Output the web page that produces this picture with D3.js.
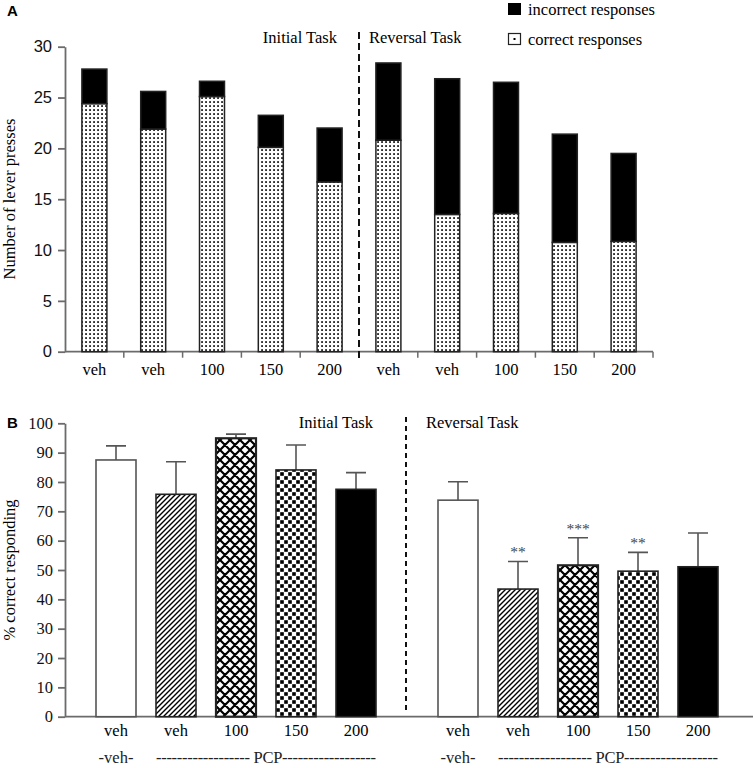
<!DOCTYPE html>
<html>
<head>
<meta charset="utf-8">
<script src="https://cdn.jsdelivr.net/npm/d3@7"></script>
<style>
  body { margin: 0; background: #fff; }
  svg text { font-family: "Liberation Serif", "Times New Roman", serif; }
</style>
</head>
<body>
<svg id="chart" width="753" height="768"></svg>
<script>
// Panel A: lever presses (stacked), initial + reversal task
const leverLabels = ["veh", "veh", "100", "150", "200", "veh", "veh", "100", "150", "200"];
const leverCorrect = [24.4, 21.9, 25.1, 20.1, 16.7, 20.8, 13.5, 13.6, 10.75, 10.85];
const leverIncorrect = [3.4, 3.7, 1.5, 3.15, 5.3, 7.6, 13.35, 12.9, 10.65, 8.65];
const leverTicks = [0, 5, 10, 15, 20, 25, 30];

// Panel B: % correct responding (mean + SEM)
const doseLabels = ["veh", "veh", "100", "150", "200"];
const initialMean = [87.5, 75.8, 94.9, 84.1, 77.5];
const initialSem = [4.8, 11.1, 1.4, 8.5, 5.7];
const reversalMean = [73.8, 43.5, 51.6, 49.6, 51.1];
const reversalSem = [6.3, 9.4, 9.4, 6.4, 11.5];
const reversalStars = ["", "**", "***", "**", ""];
const pctTicks = [0, 10, 20, 30, 40, 50, 60, 70, 80, 90, 100];
const barFills = ["white", "url(#hatch)", "url(#cross)", "url(#checker)", "black"];

let svg = d3.select("#chart");
let axisColor = "#6b6b6b";

// patterns
let defs = svg.append("defs");

let dots = defs.append("pattern").attr("id", "dots")
    .attr("patternUnits", "userSpaceOnUse").attr("width", 4).attr("height", 4);
dots.append("rect").attr("width", 4).attr("height", 4).attr("fill", "white");
dots.append("rect").attr("x", 1.2).attr("y", 1.2).attr("width", 1.7).attr("height", 1.7).attr("fill", "black");

let hatch = defs.append("pattern").attr("id", "hatch")
    .attr("patternUnits", "userSpaceOnUse").attr("width", 5).attr("height", 5);
hatch.append("rect").attr("width", 5).attr("height", 5).attr("fill", "white");
hatch.append("path").attr("d", "M0,5L5,0M-1,1L1,-1M4,6L6,4")
    .attr("stroke", "black").attr("stroke-width", 1.4);

let cross = defs.append("pattern").attr("id", "cross")
    .attr("patternUnits", "userSpaceOnUse").attr("width", 10).attr("height", 10);
cross.append("rect").attr("width", 10).attr("height", 10).attr("fill", "white");
cross.append("path").attr("d", "M0,10L10,0M-1,1L1,-1M9,11L11,9M0,0L10,10M-1,9L1,11M9,-1L11,1")
    .attr("stroke", "black").attr("stroke-width", 2.2);

let checker = defs.append("pattern").attr("id", "checker")
    .attr("patternUnits", "userSpaceOnUse").attr("width", 8).attr("height", 8);
checker.append("rect").attr("width", 8).attr("height", 8).attr("fill", "white");
checker.append("rect").attr("x", 0.2).attr("y", 0.2).attr("width", 3.6).attr("height", 3.6).attr("fill", "black");
checker.append("rect").attr("x", 4.2).attr("y", 4.2).attr("width", 3.6).attr("height", 3.6).attr("fill", "black");

// ---------------- Panel A ----------------
let yA = d3.scaleLinear().domain([0, 30]).range([351.7, 46.7]);
let xA = d3.scaleBand().domain(d3.range(leverLabels.length))
    .range([65, 653]).paddingInner(0.575).paddingOuter(0.2875);

let gA = svg.append("g");

gA.append("text").attr("x", 7).attr("y", 16)
    .style("font-family", "Liberation Sans, Arial, sans-serif")
    .style("font-weight", "bold").style("font-size", "15px").text("A");

let axA = gA.append("g").attr("transform", "translate(65,0)")
    .call(d3.axisLeft(yA).tickValues(leverTicks).tickSize(7).tickPadding(6).tickSizeOuter(0));
axA.selectAll("path, line").attr("stroke", axisColor).attr("stroke-width", 1.8);
axA.selectAll("text").style("font-family", "Liberation Sans, Arial, sans-serif")
    .style("font-size", "16.5px").attr("fill", "#111");

// x axis line with ticks on the band boundaries
gA.append("line").attr("x1", 65).attr("x2", 653).attr("y1", yA(0)).attr("y2", yA(0))
    .attr("stroke", axisColor).attr("stroke-width", 1.8);
gA.selectAll(".xtick").data(d3.range(1, leverLabels.length + 1)).enter().append("line")
    .attr("x1", k => xA.range()[0] + k * xA.step())
    .attr("x2", k => xA.range()[0] + k * xA.step())
    .attr("y1", yA(0)).attr("y2", yA(0) + 6)
    .attr("stroke", axisColor).attr("stroke-width", 1.5);

gA.selectAll(".xlab").data(leverLabels).enter().append("text")
    .attr("x", (d, i) => xA(i) + xA.bandwidth() / 2)
    .attr("y", 375).attr("text-anchor", "middle")
    .style("font-size", "16.5px").text(d => d);

gA.append("text").attr("transform", "translate(15,199) rotate(-90)")
    .attr("text-anchor", "middle").style("font-size", "16.5px").text("Number of lever presses");

let stackData = leverLabels.map((d, i) => ({ i: i, correct: leverCorrect[i], incorrect: leverIncorrect[i] }));
let series = d3.stack().keys(["correct", "incorrect"])(stackData);
let stackFill = { correct: "url(#dots)", incorrect: "black" };

gA.selectAll(".series").data(series).enter().append("g")
    .attr("fill", s => stackFill[s.key])
    .selectAll("rect").data(s => s).enter().append("rect")
    .attr("x", d => xA(d.data.i))
    .attr("width", xA.bandwidth())
    .attr("y", d => yA(d[1]))
    .attr("height", d => yA(d[0]) - yA(d[1]))
    .attr("stroke", "#222").attr("stroke-width", 1.5);

// dashed divider A
let divA = xA.range()[0] + 5 * xA.step();
gA.append("line").attr("x1", divA).attr("x2", divA).attr("y1", 32).attr("y2", 361)
    .attr("stroke", "#111").attr("stroke-width", 2).attr("stroke-dasharray", "7,4");

gA.append("text").attr("x", 337).attr("y", 43).attr("text-anchor", "end")
    .style("font-size", "16.5px").text("Initial Task");
gA.append("text").attr("x", 369).attr("y", 43)
    .style("font-size", "16.5px").text("Reversal Task");

// legend
gA.append("rect").attr("x", 508).attr("y", 3).attr("width", 13).attr("height", 12).attr("fill", "black");
gA.append("rect").attr("x", 508.5).attr("y", 33.5).attr("width", 12).attr("height", 11)
    .attr("fill", "white").attr("stroke", "#222").attr("stroke-width", 1.2);
gA.append("rect").attr("x", 513.5).attr("y", 38).attr("width", 2).attr("height", 2).attr("fill", "black");
gA.append("text").attr("x", 528).attr("y", 15).style("font-size", "16.5px").text("incorrect responses");
gA.append("text").attr("x", 528).attr("y", 45).style("font-size", "16.5px").text("correct responses");

// ---------------- Panel B ----------------
let yB = d3.scaleLinear().domain([0, 100]).range([716.7, 423.3]);
let xInit = d3.scaleBand().domain(d3.range(5)).range([86, 386]).paddingInner(1 / 3).paddingOuter(1 / 6);
let xRev = d3.scaleBand().domain(d3.range(5)).range([428, 728]).paddingInner(1 / 3).paddingOuter(1 / 6);

let gB = svg.append("g");

gB.append("text").attr("x", 7).attr("y", 428)
    .style("font-family", "Liberation Sans, Arial, sans-serif")
    .style("font-weight", "bold").style("font-size", "15px").text("B");

let axB = gB.append("g").attr("transform", "translate(65,0)")
    .call(d3.axisLeft(yB).tickValues(pctTicks).tickSize(7).tickPadding(5).tickSizeOuter(0));
axB.selectAll("path, line").attr("stroke", axisColor).attr("stroke-width", 1.8);
axB.selectAll("text").style("font-size", "16.5px").attr("fill", "#111");

gB.append("line").attr("x1", 65).attr("x2", 753).attr("y1", yB(0)).attr("y2", yB(0))
    .attr("stroke", axisColor).attr("stroke-width", 1.8);

gB.append("text").attr("transform", "translate(15,570) rotate(-90)")
    .attr("text-anchor", "middle").style("font-size", "16.5px").text("% correct responding");

function drawGroup(x, means, sems, stars) {
    let g = gB.append("g");
    let cx = i => x(i) + x.bandwidth() / 2;
    // error bars
    g.selectAll(".err").data(means).enter().append("path")
        .attr("d", (d, i) => {
            let top = yB(d + sems[i]);
            return "M" + cx(i) + "," + yB(d) + "V" + top + "M" + (cx(i) - 10) + "," + top + "H" + (cx(i) + 10);
        })
        .attr("fill", "none").attr("stroke", "#555").attr("stroke-width", 1.6);
    g.selectAll(".bar").data(means).enter().append("rect")
        .attr("x", (d, i) => x(i)).attr("width", x.bandwidth())
        .attr("y", d => yB(d)).attr("height", d => yB(0) - yB(d))
        .attr("fill", (d, i) => barFills[i])
        .attr("stroke", (d, i) => i === 0 ? "#555" : "#222")
        .attr("stroke-width", (d, i) => i === 2 ? 2.2 : 1.6);
    if (stars) {
        g.selectAll(".star").data(means).enter().append("text")
            .attr("x", (d, i) => cx(i)).attr("y", (d, i) => yB(d + sems[i]) - 4)
            .attr("text-anchor", "middle").attr("fill", "#444")
            .style("font-size", "15.5px").text((d, i) => stars[i]);
    }
    g.selectAll(".lab").data(doseLabels).enter().append("text")
        .attr("x", (d, i) => cx(i)).attr("y", 736).attr("text-anchor", "middle")
        .style("font-size", "16.5px").text(d => d);
    g.append("text").attr("x", cx(0)).attr("y", 763).attr("text-anchor", "middle")
        .style("font-size", "16.5px").attr("fill", "#222").text("-veh-");
    g.append("text").attr("x", (cx(1) + cx(4)) / 2).attr("y", 763).attr("text-anchor", "middle")
        .attr("textLength", 220).attr("lengthAdjust", "spacing")
        .style("font-size", "16.5px").attr("fill", "#222")
        .text("------------------ PCP------------------");
}

drawGroup(xInit, initialMean, initialSem, null);
drawGroup(xRev, reversalMean, reversalSem, reversalStars);

// dashed divider B
gB.append("line").attr("x1", 406).attr("x2", 406).attr("y1", 417).attr("y2", 713)
    .attr("stroke", "#111").attr("stroke-width", 2).attr("stroke-dasharray", "5,4");

gB.append("text").attr("x", 373).attr("y", 428).attr("text-anchor", "end")
    .style("font-size", "16.5px").text("Initial Task");
gB.append("text").attr("x", 426).attr("y", 428)
    .style("font-size", "16.5px").text("Reversal Task");
</script>
</body>
</html>
